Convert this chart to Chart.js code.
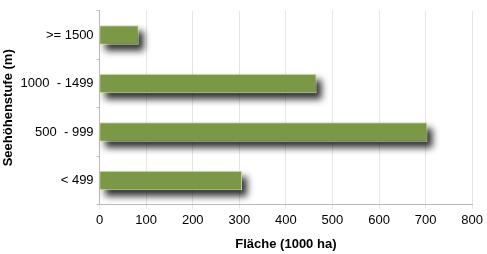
<!DOCTYPE html>
<html>
<head>
<meta charset="utf-8">
<script src="https://cdn.jsdelivr.net/npm/chart.js@4"></script>
<style>
  html, body { margin: 0; padding: 0; background: #fff; }
  #wrap { width: 487px; height: 254px; }
</style>
</head>
<body>
<div id="wrap"><canvas id="chart"></canvas></div>
<script>
// Data
const categories = ['>= 1500', '1000  - 1499', '500  - 999', '< 499'];
const areaValues = [84, 466, 704, 306];
const xTicks = [0, 100, 200, 300, 400, 500, 600, 700, 800];

Chart.defaults.font.family = "'Liberation Sans', Arial, sans-serif";
Chart.defaults.color = '#000';

// blurred drop shadow behind each bar, taken from the bar elements
const barShadow = {
  id: 'barShadow',
  beforeDatasetsDraw(chart) {
    const ctx = chart.ctx;
    ctx.save();
    ctx.filter = 'blur(3.5px)';
    ctx.fillStyle = 'rgba(0,0,0,0.8)';
    chart.getDatasetMeta(0).data.forEach(bar => {
      const { x, y, base, height } = bar.getProps(['x', 'y', 'base', 'height'], true);
      ctx.fillRect(base + 5, y - height / 2 + 6, x - base, height);
    });
    ctx.restore();
  },
};

new Chart(document.getElementById('chart'), {
  type: 'bar',
  data: {
    labels: categories,
    datasets: [{
      data: areaValues,
      backgroundColor: '#7b9847',
      borderColor: '#d3dfb3',
      borderWidth: 1,
      barPercentage: 0.8,
      categoryPercentage: 0.5,
    }],
  },
  options: {
    indexAxis: 'y',
    responsive: true,
    maintainAspectRatio: false,
    animation: false,
    layout: { padding: { top: 0, right: 14, left: 1, bottom: 2 } },
    plugins: { legend: { display: false }, tooltip: { enabled: false } },
    scales: {
      x: {
        min: 0,
        max: 800,
        afterBuildTicks: axis => { axis.ticks = xTicks.map(v => ({ value: v })); },
        grid: { color: '#e6e6e6', tickLength: 4, drawTicks: true },
        border: { color: '#bbbbbb' },
        ticks: { font: { size: 13 }, padding: 4, color: '#000' },
        title: { display: true, text: 'Fläche (1000 ha)', font: { size: 13, weight: 'bold' }, padding: { top: 4, bottom: 0 } },
      },
      y: {
        grid: { drawOnChartArea: false, tickLength: 3, color: '#bbbbbb' },
        border: { color: '#bbbbbb' },
        ticks: { font: { size: 13 }, padding: 3, color: '#000' },
        title: { display: true, text: 'Seehöhenstufe (m)', font: { size: 13, weight: 'bold' }, padding: { top: 0, bottom: 1 } },
      },
    },
  },
  plugins: [barShadow],
});
</script>
</body>
</html>
